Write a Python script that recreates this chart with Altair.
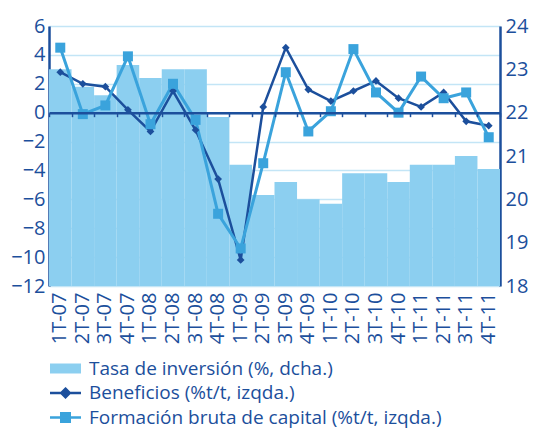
import altair as alt
import pandas as pd

trimestres = ["1T-07", "2T-07", "3T-07", "4T-07", "1T-08", "2T-08", "3T-08", "4T-08",
              "1T-09", "2T-09", "3T-09", "4T-09", "1T-10", "2T-10", "3T-10", "4T-10",
              "1T-11", "2T-11", "3T-11", "4T-11"]
tasa_inversion = [23.0, 22.6, 22.4, 23.1, 22.8, 23.0, 23.0, 21.9, 20.8, 20.1,
                  20.4, 20.0, 19.9, 20.6, 20.6, 20.4, 20.8, 20.8, 21.0, 20.7]
beneficios = [2.8, 2.0, 1.8, 0.2, -1.3, 1.5, -1.2, -4.6, -10.2, 0.4,
              4.5, 1.6, 0.8, 1.5, 2.2, 1.0, 0.4, 1.4, -0.6, -0.9]
formacion = [4.5, -0.1, 0.5, 3.9, -0.8, 2.0, -0.5, -7.0, -9.4, -3.5,
             2.8, -1.3, 0.1, 4.4, 1.4, 0.0, 2.5, 1.0, 1.4, -1.7]

S_T = "Tasa de inversión (%, dcha.)"
S_B = "Beneficios (%t/t, izqda.)"
S_F = "Formación bruta de capital (%t/t, izqda.)"

DARK = "#1c4f9c"
LIGHT = "#3aa3dc"
BAR = "#8ccff0"
GRID = "#c3e5f6"
FONT = "Open Sans"
FS = 20
FS_LEG = 19

df_bar = pd.DataFrame({"t": trimestres, "v": tasa_inversion, "serie": S_T})
df_lines = pd.concat([
    pd.DataFrame({"t": trimestres, "v": beneficios, "serie": S_B}),
    pd.DataFrame({"t": trimestres, "v": formacion, "serie": S_F}),
])

shape_expr = (
    f"datum.value === '{S_T}' ? 'M-3.1,-1H3.1V1H-3.1Z' : "
    f"(datum.value === '{S_B}' ? 'M-3.1,0H3.1M0,-0.85L0.85,0L0,0.85L-0.85,0Z' : "
    f"'M-3.1,0H3.1M-0.85,-0.85H0.85V0.85H-0.85Z')"
)
color_expr = "scale('color', datum.value)"
stroke_w_expr = f"datum.value === '{S_T}' ? 0 : 2.5"

legend = alt.Legend(
    title=None, orient="none", legendX=7, legendY=333, direction="vertical",
    labelFontSize=FS_LEG, labelColor=DARK, labelFont=FONT, labelLimit=0,
    symbolSize=100, labelOffset=14, rowPadding=4.5, padding=0,
    symbolType={"expr": shape_expr},
    symbolFillColor={"expr": color_expr},
    symbolStrokeColor={"expr": color_expr},
    symbolStrokeWidth={"expr": stroke_w_expr},
    symbolOpacity=1,
)

color = alt.Color("serie:N", scale=alt.Scale(domain=[S_T, S_B, S_F], range=[BAR, DARK, LIGHT]),
                  legend=legend)

x_sort = trimestres
x_scale = alt.Scale(paddingInner=0, paddingOuter=0)

bars = alt.Chart(df_bar).mark_bar(opacity=1).encode(
    x=alt.X("t:N", sort=x_sort, scale=x_scale,
            axis=alt.Axis(title=None, orient="bottom", labelAngle=-90, domain=False, ticks=False,
                          labelFontSize=FS, labelColor=DARK, labelFont=FONT,
                          labelPadding=6, labelBound=False, labelOverlap=False)),
    y=alt.Y("v:Q", scale=alt.Scale(domain=[18, 24], nice=False, zero=False),
            axis=alt.Axis(title=None, orient="right", values=[18, 19, 20, 21, 22, 23, 24],
                          grid=False, ticks=False, domainColor=DARK, domainWidth=2.5,
                          labelFontSize=FS, labelColor=DARK, labelFont=FONT, labelPadding=5)),
    y2=alt.datum(18),
    color=color,
)

x_zero = alt.X("t:N", sort=x_sort, scale=x_scale,
               axis=alt.Axis(title=None, orient="bottom", labels=False, domainColor=DARK,
                             domainWidth=2.5, ticks=True, tickColor=DARK, tickSize=4,
                             tickWidth=1.5, bandPosition=0, tickBand="extent",
                             offset=-173.33, zindex=1))
y_left = alt.Y("v:Q", scale=alt.Scale(domain=[-12, 6], nice=False, zero=False),
               axis=alt.Axis(title=None, orient="left", values=list(range(-12, 7, 2)),
                             grid=True, gridColor=GRID, gridWidth=1.5, ticks=False,
                             domainColor=DARK, domainWidth=2.5, labelFontSize=FS,
                             labelColor=DARK, labelFont=FONT, labelPadding=4))

lines = alt.Chart(df_lines).mark_line().encode(
    x=x_zero, y=y_left, color=color,
    strokeWidth=alt.StrokeWidth("serie:N", scale=alt.Scale(domain=[S_B, S_F], range=[2.5, 3]),
                                legend=None),
)
points = alt.Chart(df_lines).mark_point(filled=True, opacity=1).encode(
    x=x_zero, y=y_left, color=color,
    shape=alt.Shape("serie:N", scale=alt.Scale(domain=[S_B, S_F], range=["diamond", "square"]),
                    legend=None),
    size=alt.Size("serie:N", scale=alt.Scale(domain=[S_B, S_F], range=[60, 100]), legend=None),
)

chart = alt.layer(bars, alt.layer(lines, points)).resolve_scale(
    y="independent"
).resolve_axis(x="independent").properties(
    width=451, height=260,
    autosize=alt.AutoSizeParams(type="none"),
    padding={"left": 41, "top": 18, "right": 36, "bottom": 143},
).configure_view(strokeWidth=0).configure(font=FONT)

chart.save("out.html", embed_options={"renderer": "svg", "actions": False})
